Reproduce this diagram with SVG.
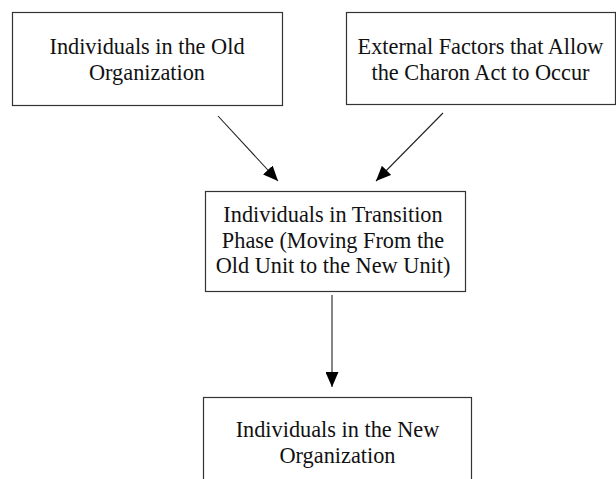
<svg xmlns="http://www.w3.org/2000/svg" width="616" height="479" viewBox="0 0 616 479">
<defs>
<style>
.box{fill:#fff;stroke:#333;stroke-width:1.2}
.t{font-family:"Liberation Serif","Times New Roman",serif;font-size:22.3px;fill:#111;text-anchor:middle}
.c{stroke:#222;stroke-width:1.1;fill:none;marker-end:url(#ah)}
</style>
<marker id="ah" markerUnits="userSpaceOnUse" markerWidth="15" markerHeight="13" refX="15" refY="6.5" orient="auto" viewBox="0 0 15 13">
<path d="M0,0 L15,6.5 L0,13 z" fill="#000"/>
</marker>
</defs>
<rect width="616" height="479" fill="#fff"/>
<g id="connectors">
<line class="c" x1="218" y1="116" x2="278" y2="181"/>
<line class="c" x1="443" y1="113" x2="376" y2="181"/>
<line class="c" x1="332" y1="295" x2="332" y2="387"/>
</g>
<g id="old-org">
<rect class="box" x="12.5" y="12.5" width="270" height="93"/>
<text class="t" x="147" y="54">Individuals in the Old</text>
<text class="t" x="147" y="80">Organization</text>
</g>
<g id="external">
<rect class="box" x="346.5" y="12.5" width="269" height="92"/>
<text class="t" x="480.5" y="54">External Factors that Allow</text>
<text class="t" x="480.5" y="80">the Charon Act to Occur</text>
</g>
<g id="transition">
<rect class="box" x="205.5" y="191.5" width="260" height="100"/>
<text class="t" x="333" y="222">Individuals in Transition</text>
<text class="t" x="333" y="247.5">Phase (Moving From the</text>
<text class="t" x="333" y="273">Old Unit to the New Unit)</text>
</g>
<g id="new-org">
<rect class="box" x="203.5" y="397.5" width="268" height="100"/>
<text class="t" x="337.5" y="437">Individuals in the New</text>
<text class="t" x="337.5" y="463">Organization</text>
</g>
</svg>
